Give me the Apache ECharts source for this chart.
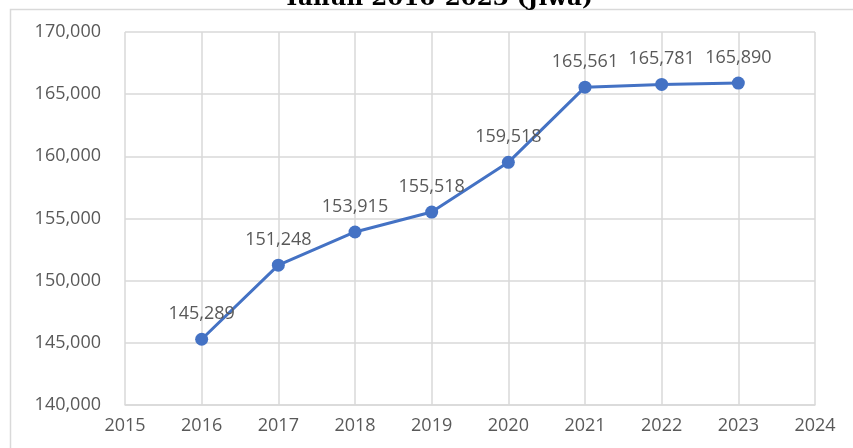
<!DOCTYPE html>
<html>
<head>
<meta charset="utf-8">
<script src="https://cdn.jsdelivr.net/npm/echarts@6/dist/echarts.min.js"></script>
<style>
  html, body { margin: 0; padding: 0; background: #fff; }
  #chart { width: 853px; height: 448px; }
</style>
</head>
<body>
<div id="chart"></div>
<script>
// data
const years = [2016, 2017, 2018, 2019, 2020, 2021, 2022, 2023];
const penduduk = [145289, 151248, 153915, 155518, 159518, 165561, 165781, 165890];
const titleText = "Tahun 2016-2023 (Jiwa)";

const mychart = echarts.init(document.getElementById("chart"));
const fmt = (v) => v.toLocaleString("en-US");

let option = {
  animation: false,
  textStyle: { fontFamily: "Open Sans" },
  graphic: [
    {
      type: "rect",
      shape: { x: 10.5, y: 9.5, width: 900, height: 500 },
      style: { fill: "none", stroke: "#d9d9d9", lineWidth: 1.5 },
      silent: true,
    },
    {
      type: "text",
      x: 438,
      y: -12,
      style: {
        text: titleText,
        font: "bold 23px 'DejaVu Serif'",
        fill: "#000",
        textAlign: "center",
        textVerticalAlign: "top",
      },
      silent: true,
    },
  ],
  grid: {
    left: 125,
    right: 38,
    top: 32,
    bottom: 43,
  },
  xAxis: {
    type: "value",
    min: 2015,
    max: 2024,
    interval: 1,
    axisLine: { lineStyle: { color: "#d9d9d9", width: 1.5 } },
    axisTick: { show: false },
    splitLine: { lineStyle: { color: "#d9d9d9", width: 1.5 } },
    axisLabel: {
      color: "#595959",
      fontSize: 18,
      margin: 12,
      formatter: (v) => String(v),
    },
  },
  yAxis: {
    type: "value",
    min: 140000,
    max: 170000,
    interval: 5000,
    axisLine: { show: false },
    axisTick: { show: false },
    splitLine: { lineStyle: { color: "#d9d9d9", width: 1.5 } },
    axisLabel: {
      color: "#595959",
      fontSize: 18,
      margin: 24,
      formatter: (v) => fmt(v),
    },
  },
  series: [
    {
      type: "line",
      data: years.map((y, i) => [y, penduduk[i]]),
      lineStyle: { color: "#4472C4", width: 3 },
      itemStyle: { color: "#4472C4" },
      symbol: "circle",
      symbolSize: 13,
      label: {
        show: true,
        position: "top",
        distance: 10,
        color: "#595959",
        fontSize: 18,
        formatter: (p) => fmt(p.value[1]),
      },
    },
  ],
};
mychart.setOption(option);
</script>
</body>
</html>
